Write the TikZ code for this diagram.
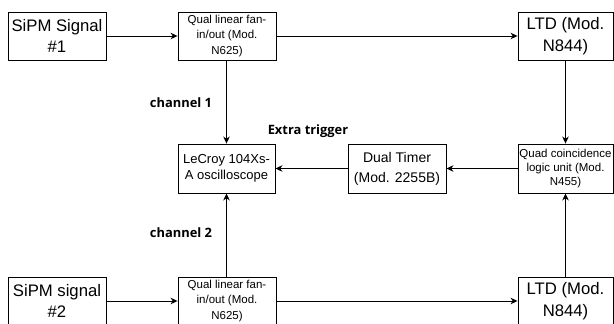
\documentclass[tikz,border=0pt]{standalone}
\usepackage{fontspec}
\setmainfont{Liberation Sans}
\newfontfamily\lblfont{Open Sans}
\usetikzlibrary{arrows.meta}
\tikzset{
  box/.style={draw, line width=0.9pt, minimum height=48pt, inner sep=0pt, align=center, fill=white},
  big/.style={font=\fontsize{16.7}{21.5}\selectfont},
  small/.style={font=\fontsize{11.5}{15.5}\selectfont},
  mid/.style={font=\fontsize{13}{15.7}\selectfont},
  tim/.style={font=\fontsize{14}{20}\selectfont},
  quad/.style={font=\fontsize{11.5}{14.2}\selectfont},
  conn/.style={line width=0.9pt, -{Stealth[length=7pt,width=6.5pt,inset=2.2pt]}},
  lbl/.style={font=\lblfont\bfseries\fontsize{12.9}{15}\selectfont, inner sep=0pt}
}
\begin{document}
\begin{tikzpicture}[x=1pt,y=-1pt]
\useasboundingbox (0,0) rectangle (614,324);
\clip (0,0) rectangle (614,324);
\node[box,big,minimum width=98pt] (s1) at (57,36) {SiPM Signal\\\#1};
\node[box,small,minimum width=98pt] (f1) at (227,36) {Qual linear fan-\\in/out (Mod.\\N625)};
\node[box,big,minimum width=95pt] (l1) at (565.5,36) {LTD (Mod.\\N844)};
\node[box,mid,minimum width=97pt,minimum height=49pt] (sc) at (226.5,168.5) {LeCroy 104Xs-\\A oscilloscope};
\node[box,tim,minimum width=98pt,minimum height=49pt] (dt) at (397,168.5) {Dual Timer\\(Mod. 2255B)};
\node[box,quad,minimum width=95pt,minimum height=49pt] (qc) at (565.5,168.5) {Quad coincidence\\logic unit (Mod.\\N455)};
\node[box,big,minimum width=98pt] (s2) at (57,301) {SiPM signal\\\#2};
\node[box,small,minimum width=98pt] (f2) at (227,301) {Qual linear fan-\\in/out (Mod.\\N625)};
\node[box,big,minimum width=95pt] (l2) at (565.5,301) {LTD (Mod.\\N844)};
\draw[conn] (s1) -- (f1);
\draw[conn] (f1) -- (l1);
\draw[conn] (s2) -- (f2);
\draw[conn] (f2) -- (l2);
\draw[conn] (f1.south -| sc.north) -- (sc.north);
\draw[conn] (f2.north -| sc.south) -- (sc.south);
\draw[conn] (l1) -- (qc);
\draw[conn] (l2) -- (qc);
\draw[conn] (qc) -- (dt);
\draw[conn] (dt) -- (sc);
\node[lbl] (c1) at (181,103) {channel 1};
\node[lbl] (c2) at (181,233) {channel 2};
\node[lbl] (et) at (308,131) {Extra trigger};
\end{tikzpicture}
\end{document}
